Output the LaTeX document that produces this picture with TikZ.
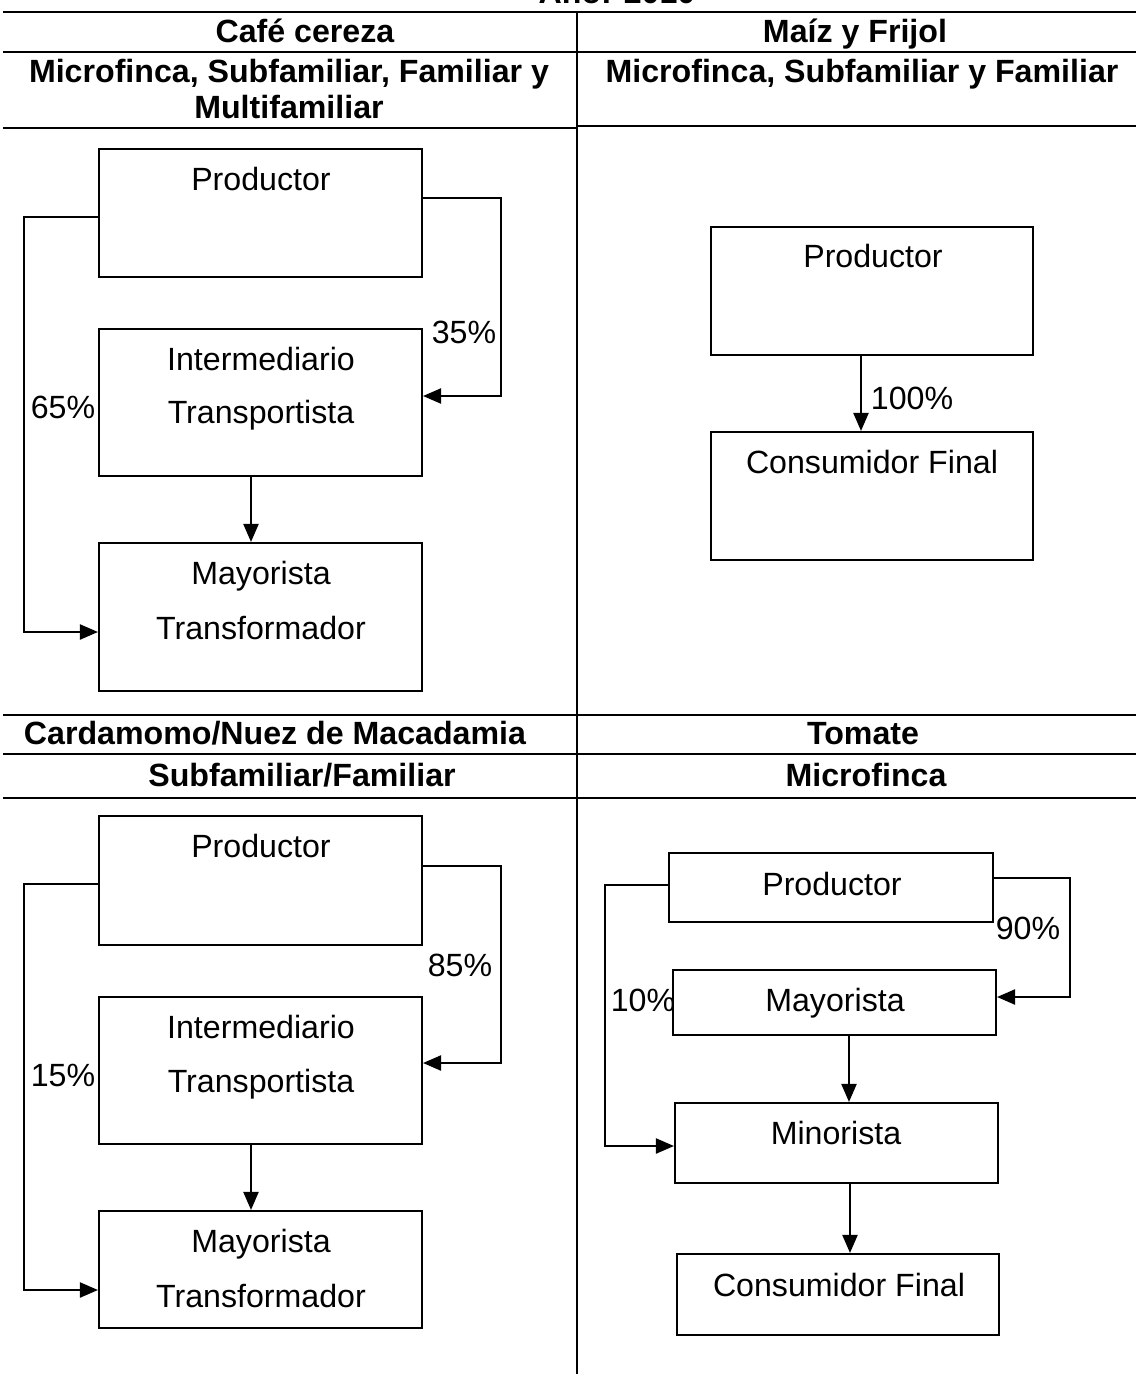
\documentclass[tikz,border=0pt]{standalone}
\usepackage{fontspec}
\setmainfont{Liberation Sans}
\usetikzlibrary{arrows.meta,calc}
\begin{document}
\begin{tikzpicture}[x=0.02cm,y=-0.02cm,
  sep/.style={line width=1.5pt},
  boxnode/.style={draw,line width=1.2pt,rectangle,inner sep=0pt},
  txt/.style={anchor=base,inner sep=0pt,font=\fontsize{18.3pt}{20pt}\selectfont},
  hdr/.style={anchor=base,inner sep=0pt,font=\fontsize{18.3pt}{20pt}\selectfont\bfseries},
  arr/.style={line width=1.2pt,-{Triangle[length=0.36cm,width=0.3cm]}}]
\useasboundingbox (0,0) rectangle (1136,1374);
% separators
\draw[sep] (3,12) -- (1136,12);
\draw[sep] (3,52) -- (1136,52);
\draw[sep] (3,128) -- (577,128);
\draw[sep] (577,126) -- (1136,126);
\draw[sep] (3,715) -- (1136,715);
\draw[sep] (3,754) -- (1136,754);
\draw[sep] (3,798) -- (1136,798);
\draw[line width=1.2pt] (577,12) -- (577,1374);
% headers
\node[hdr] (title) at (617,3) {Año: 2010};
\node[hdr] (h1) at (305,42) {Café cereza};
\node[hdr] (h2) at (855,42) {Maíz y Frijol};
\node[hdr] (h3) at (289,82) {Microfinca, Subfamiliar, Familiar y};
\node[hdr] (h3b) at (289,118) {Multifamiliar};
\node[hdr] (h4) at (862,82) {Microfinca, Subfamiliar y Familiar};
\node[hdr] (h5) at (275,744) {Cardamomo/Nuez de Macadamia};
\node[hdr] (h6) at (863,744) {Tomate};
\node[hdr] (h7) at (302,786) {Subfamiliar/Familiar};
\node[hdr] (h8) at (866,786) {Microfinca};
% ---------- top left
\node[boxnode,minimum width=6.46cm,minimum height=2.56cm] (P1) at (260.5,213) {};
\node[boxnode,minimum width=6.46cm,minimum height=2.94cm] (I1) at (260.5,402.5) {};
\node[boxnode,minimum width=6.46cm,minimum height=2.96cm] (M1) at (260.5,617) {};
\node[txt] (tP1) at (261,190) {Productor};
\node[txt] (tI1a) at (261,370) {Intermediario};
\node[txt] (tI1b) at (261,423) {Transportista};
\node[txt] (tM1a) at (261,584) {Mayorista};
\node[txt] (tM1b) at (261,639) {Transformador};
\node[txt] (l35) at (464,343) {35\%};
\node[txt] (l65) at (63,418) {65\%};
\draw[arr] ($(P1.east)+(0,-15)$) -- ++(78,0) |- ($(I1.east)+(0,-6.5)$);
\draw[arr] ($(P1.west)+(0,4)$) -- ++(-74,0) |- ($(M1.west)+(0,15)$);
\draw[arr] ($(I1.south)+(-9.5,0)$) -- ($(M1.north)+(-9.5,0)$);
% ---------- top right
\node[boxnode,minimum width=6.44cm,minimum height=2.56cm] (P2) at (872,291) {};
\node[boxnode,minimum width=6.44cm,minimum height=2.56cm] (C2) at (872,496) {};
\node[txt] (tP2) at (873,267) {Productor};
\node[txt] (tC2) at (872,473) {Consumidor Final};
\node[txt] (l100) at (912,409) {100\%};
\draw[arr] ($(P2.south)+(-11,0)$) -- ($(C2.north)+(-11,0)$);
% ---------- bottom left
\node[boxnode,minimum width=6.46cm,minimum height=2.58cm] (P3) at (260.5,880.5) {};
\node[boxnode,minimum width=6.46cm,minimum height=2.94cm] (I3) at (260.5,1070.5) {};
\node[boxnode,minimum width=6.46cm,minimum height=2.34cm] (M3) at (260.5,1269.5) {};
\node[txt] (tP3) at (261,857) {Productor};
\node[txt] (tI3a) at (261,1038) {Intermediario};
\node[txt] (tI3b) at (261,1092) {Transportista};
\node[txt] (tM3a) at (261,1252) {Mayorista};
\node[txt] (tM3b) at (261,1307) {Transformador};
\node[txt] (l85) at (460,976) {85\%};
\node[txt] (l15) at (63,1086) {15\%};
\draw[arr] ($(P3.east)+(0,-14.5)$) -- ++(78,0) |- ($(I3.east)+(0,-7.5)$);
\draw[arr] ($(P3.west)+(0,3.5)$) -- ++(-74,0) |- ($(M3.west)+(0,20.5)$);
\draw[arr] ($(I3.south)+(-9.5,0)$) -- ($(M3.north)+(-9.5,0)$);
% ---------- bottom right
\node[boxnode,minimum width=6.48cm,minimum height=1.38cm] (P4) at (831,887.5) {};
\node[boxnode,minimum width=6.46cm,minimum height=1.30cm] (M4) at (834.5,1002.5) {};
\node[boxnode,minimum width=6.46cm,minimum height=1.60cm] (N4) at (836.5,1143) {};
\node[boxnode,minimum width=6.44cm,minimum height=1.62cm] (C4) at (838,1294.5) {};
\node[txt] (tP4) at (832,895) {Productor};
\node[txt] (tM4) at (835,1011) {Mayorista};
\node[txt] (tN4) at (836,1144) {Minorista};
\node[txt] (tC4) at (839,1296) {Consumidor Final};
\node[txt] (l90) at (1028,939) {90\%};
\node[txt] (l10) at (643,1011) {10\%};
\draw[arr] ($(P4.east)+(0,-9.5)$) -- ++(76,0) |- ($(M4.east)+(0,-5.5)$);
\draw[arr] ($(P4.west)+(0,-2.5)$) -- ++(-63,0) |- ($(N4.west)+(0,3)$);
\draw[arr] ($(M4.south)+(14.5,0)$) coordinate (a1) -- (a1 |- N4.north);
\draw[arr] ($(N4.south)+(13.5,0)$) coordinate (a2) -- (a2 |- C4.north);
\end{tikzpicture}
\end{document}
